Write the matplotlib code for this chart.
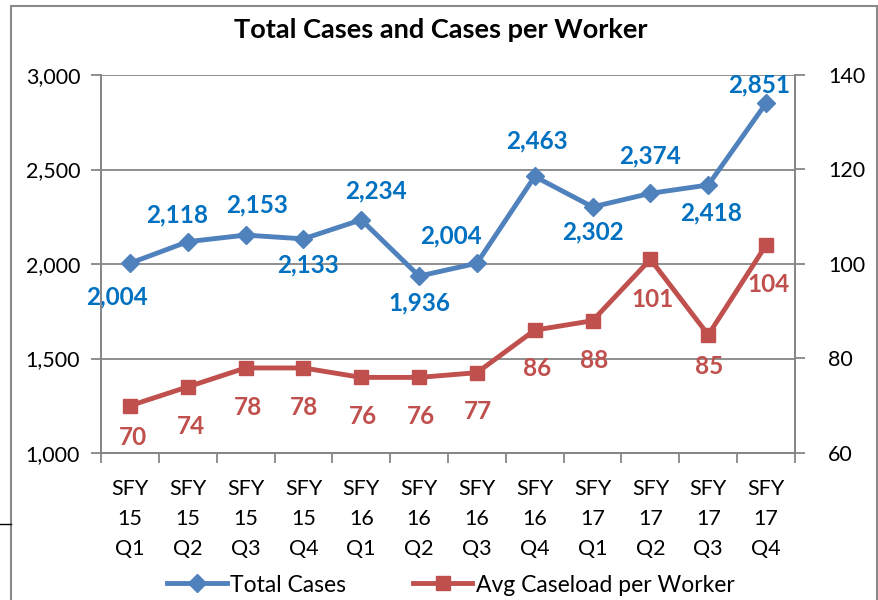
import matplotlib
matplotlib.use("Agg")
import matplotlib.pyplot as plt
from matplotlib.lines import Line2D
from matplotlib.patches import Rectangle

plt.rcParams['font.family'] = ['Lato', 'DejaVu Sans']

categories = ["SFY\n15\nQ1", "SFY\n15\nQ2", "SFY\n15\nQ3", "SFY\n15\nQ4",
              "SFY\n16\nQ1", "SFY\n16\nQ2", "SFY\n16\nQ3", "SFY\n16\nQ4",
              "SFY\n17\nQ1", "SFY\n17\nQ2", "SFY\n17\nQ3", "SFY\n17\nQ4"]
total_cases = [2004, 2118, 2153, 2133, 2234, 1936, 2004, 2463, 2302, 2374, 2418, 2851]
avg_caseload = [70, 74, 78, 78, 76, 76, 77, 86, 88, 101, 85, 104]
left_ticks = [1000, 1500, 2000, 2500, 3000]
right_ticks = [60, 80, 100, 120, 140]

# label offsets in pixels (layout only)
blue_off = [(-13, -34), (-11, 27), (11, 30), (5, -26), (15, 29), (0, -27),
            (-26, 27), (2, 36), (0, -25), (0, 37), (3, -28), (-7, 18)]
red_off = [(3, -32), (3, -40), (2, -40), (1, -40), (2, -39), (2, -39),
           (1, -39), (2, -38), (2, -40), (2, -40), (1, -32), (2, -39)]

BLUE = '#4F81BD'
RED = '#C0504D'
BLUE_T = '#0070C0'
GRID = '#868686'

fig = plt.figure(figsize=(8.79, 6.0), dpi=100)
W, H = 879, 600
# chart border
fig.patches.append(Rectangle((11 / W, -0.01), 866 / W, 1 - 6 / H + 0.01,
                             transform=fig.transFigure, fill=False,
                             edgecolor='#898989', linewidth=1.5))
fig.lines.append(Line2D([0, 11 / W], [1 - 524 / H, 1 - 524 / H],
                        transform=fig.transFigure, color='black', linewidth=1))

ax = fig.add_axes([101 / W, 1 - 453 / H, 694 / W, 378 / H])
ax2 = ax.twinx()

x = list(range(len(categories)))
ax.set_xlim(-0.5, len(categories) - 0.5)
ax.set_ylim(1000, 3000)
ax2.set_ylim(60, 140)

ax.set_yticks(left_ticks)
ax.set_yticklabels([f"{v:,}" for v in left_ticks])
ax2.set_yticks(right_ticks)
ax2.set_yticklabels([str(v) for v in right_ticks])
ax.yaxis.grid(True, color=GRID, linewidth=1.3)
ax.set_axisbelow(True)

ax.set_xticks(x)
ax.set_xticklabels(categories, fontsize=15.5, linespacing=1.6)
ax.set_xticks([i - 0.5 for i in range(len(categories) + 1)], minor=True)
ax.tick_params(axis='x', which='major', length=0, pad=19)
ax.tick_params(axis='x', which='minor', length=7, width=1.3, color=GRID, direction='out')
ax.tick_params(axis='y', length=7, width=1.3, color=GRID, labelsize=15.5, pad=8)
ax2.tick_params(axis='y', length=7, width=1.3, color=GRID, labelsize=15.5, pad=17)

for a in (ax, ax2):
    for s in a.spines.values():
        s.set_color(GRID)
        s.set_linewidth(1.3)
    a.spines['top'].set_visible(False)

l1, = ax.plot(x, total_cases, color=BLUE, linewidth=3.5, marker='D', markersize=9.5,
              markerfacecolor=BLUE, markeredgecolor=BLUE, zorder=5, label='Total Cases')
l2, = ax2.plot(x, avg_caseload, color=RED, linewidth=3.5, marker='s', markersize=10.5,
               markerfacecolor=RED, markeredgecolor=RED, zorder=5,
               label='Avg Caseload per Worker')

for i, v in enumerate(total_cases):
    dx, dy = blue_off[i]
    ax.annotate(f"{v:,}", (x[i], v), xytext=(dx * 0.72, dy * 0.72), textcoords='offset points',
                ha='center', va='center', color=BLUE_T, fontsize=17.5, fontweight='bold', zorder=6)
for i, v in enumerate(avg_caseload):
    dx, dy = red_off[i]
    ax2.annotate(str(v), (x[i], v), xytext=(dx * 0.72, dy * 0.72), textcoords='offset points',
                 ha='center', va='center', color=RED, fontsize=17.5, fontweight='bold', zorder=6)

fig.text(441 / W, 1 - 30 / H, "Total Cases and Cases per Worker", ha='center', va='center',
         fontsize=19.5, fontweight='bold')

fig.legend(handles=[l1, l2], loc='center', bbox_to_anchor=(451 / W, 1 - 585 / H),
           ncol=2, frameon=False, fontsize=16.5, handlelength=2.6, columnspacing=2.9,
           handletextpad=0.15)

fig.savefig("out.png", dpi=100)
